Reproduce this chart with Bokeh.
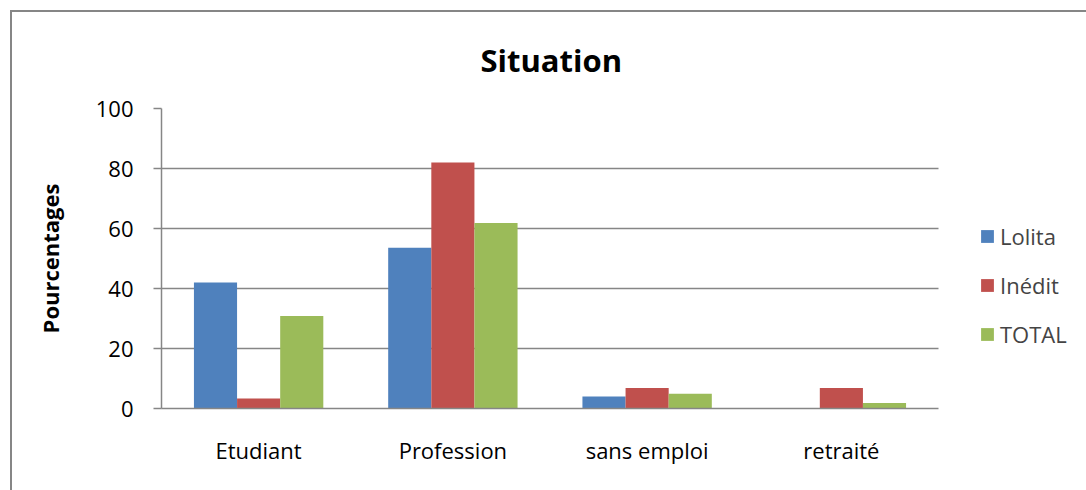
from bokeh.plotting import figure
from bokeh.models import (ColumnDataSource, Range1d, FixedTicker, Legend, LegendItem)
from bokeh.transform import dodge
from bokeh.embed import file_html
from bokeh.resources import INLINE

categories = ["Etudiant", "Profession", "sans emploi", "retraité"]
lolita = [42.0, 53.6, 4.0, 0.0]
inedit = [3.3, 82.0, 6.8, 6.8]
total = [30.8, 61.8, 4.9, 1.8]
series_names = ["Lolita", "Inédit", "TOTAL"]
colors = ["#4F81BD", "#C0504D", "#9BBB59"]
y_ticks = [0, 20, 40, 60, 80, 100]

FONT = "Open Sans"
GREY = "#868686"

n = len(categories)
xpos = [i + 0.5 for i in range(n)]
src = ColumnDataSource(dict(x=xpos, lolita=lolita, inedit=inedit, total=total))

FIG_W, FIG_H = 1076, 480
LEFT, TOP, BOTTOM = 149, 96, 84
frame_w = FIG_W - LEFT
plot_w = 777  # pixel width of the category area
x_end = n * frame_w / plot_w

p = figure(width=FIG_W, height=FIG_H, x_range=Range1d(0, x_end),
           y_range=Range1d(0, 100), output_backend="svg", toolbar_location=None,
           min_border_left=LEFT, min_border_right=0, min_border_top=TOP,
           min_border_bottom=BOTTOM)
p.margin = (10, 0, 0, 10)
p.styles = {"border-left": "2px solid #868686", "border-top": "2px solid #868686"}
p.title.text = "Situation"
p.title.text_font = FONT
p.title.text_font_size = "31px"
p.title.text_font_style = "bold"
p.title.text_color = "black"
p.title.align = "left"
p.title.offset = 319
p.title.vertical_align = "top"
p.title.standoff = 52
p.outline_line_color = None
p.background_fill_color = "white"
p.border_fill_color = "white"

bw = 0.222
cols = ["lolita", "inedit", "total"]
offsets = [-bw, 0.0, bw]
renderers = []
for col, off, c in zip(cols, offsets, colors):
    r = p.vbar(x=dodge("x", off), top=col, width=bw, source=src,
               fill_color=c, line_color=None)
    renderers.append(r)

# axes
p.yaxis.ticker = FixedTicker(ticks=y_ticks)
p.yaxis.axis_label = "Pourcentages"
p.yaxis.axis_label_text_font = FONT
p.yaxis.axis_label_text_font_size = "22px"
p.yaxis.axis_label_text_font_style = "bold"
p.yaxis.axis_label_text_color = "black"
p.yaxis.axis_label_standoff = 28
p.yaxis.major_label_text_font = FONT
p.yaxis.major_label_text_font_size = "22px"
p.yaxis.major_label_text_color = "black"
p.yaxis.major_label_standoff = 20
p.yaxis.major_tick_out = 8
p.yaxis.major_tick_in = 0
p.yaxis.minor_tick_out = 0
p.yaxis.minor_tick_in = 0
p.yaxis.axis_line_color = GREY
p.yaxis.axis_line_width = 1.5
p.yaxis.major_tick_line_color = GREY
p.yaxis.major_tick_line_width = 1.5

p.xaxis.ticker = FixedTicker(ticks=xpos)
p.xaxis.major_label_overrides = {x: c for x, c in zip(xpos, categories)}
p.xaxis.bounds = (0, n)
p.xaxis.major_label_text_font = FONT
p.xaxis.major_label_text_font_size = "22px"
p.xaxis.major_label_text_color = "black"
p.xaxis.major_label_standoff = 26
p.xaxis.major_tick_out = 0
p.xaxis.major_tick_in = 0
p.xaxis.minor_tick_out = 0
p.xaxis.minor_tick_in = 0
p.xaxis.axis_line_color = GREY
p.xaxis.axis_line_width = 1.5

p.xgrid.grid_line_color = None
p.ygrid.grid_line_color = GREY
p.ygrid.grid_line_width = 1.5
p.ygrid.ticker = FixedTicker(ticks=y_ticks)
p.ygrid.cross_bounds = (0, n)

legend = Legend(items=[LegendItem(label=s, renderers=[r]) for s, r in zip(series_names, renderers)],
                location=(818, 59), orientation="vertical",
                label_text_font=FONT, label_text_font_size="22px",
                glyph_width=16, glyph_height=16, label_standoff=5,
                spacing=19, padding=0, margin=0,
                border_line_color=None, background_fill_alpha=0)
p.add_layout(legend, "center")

open("out.html", "w").write(file_html(p, INLINE))
